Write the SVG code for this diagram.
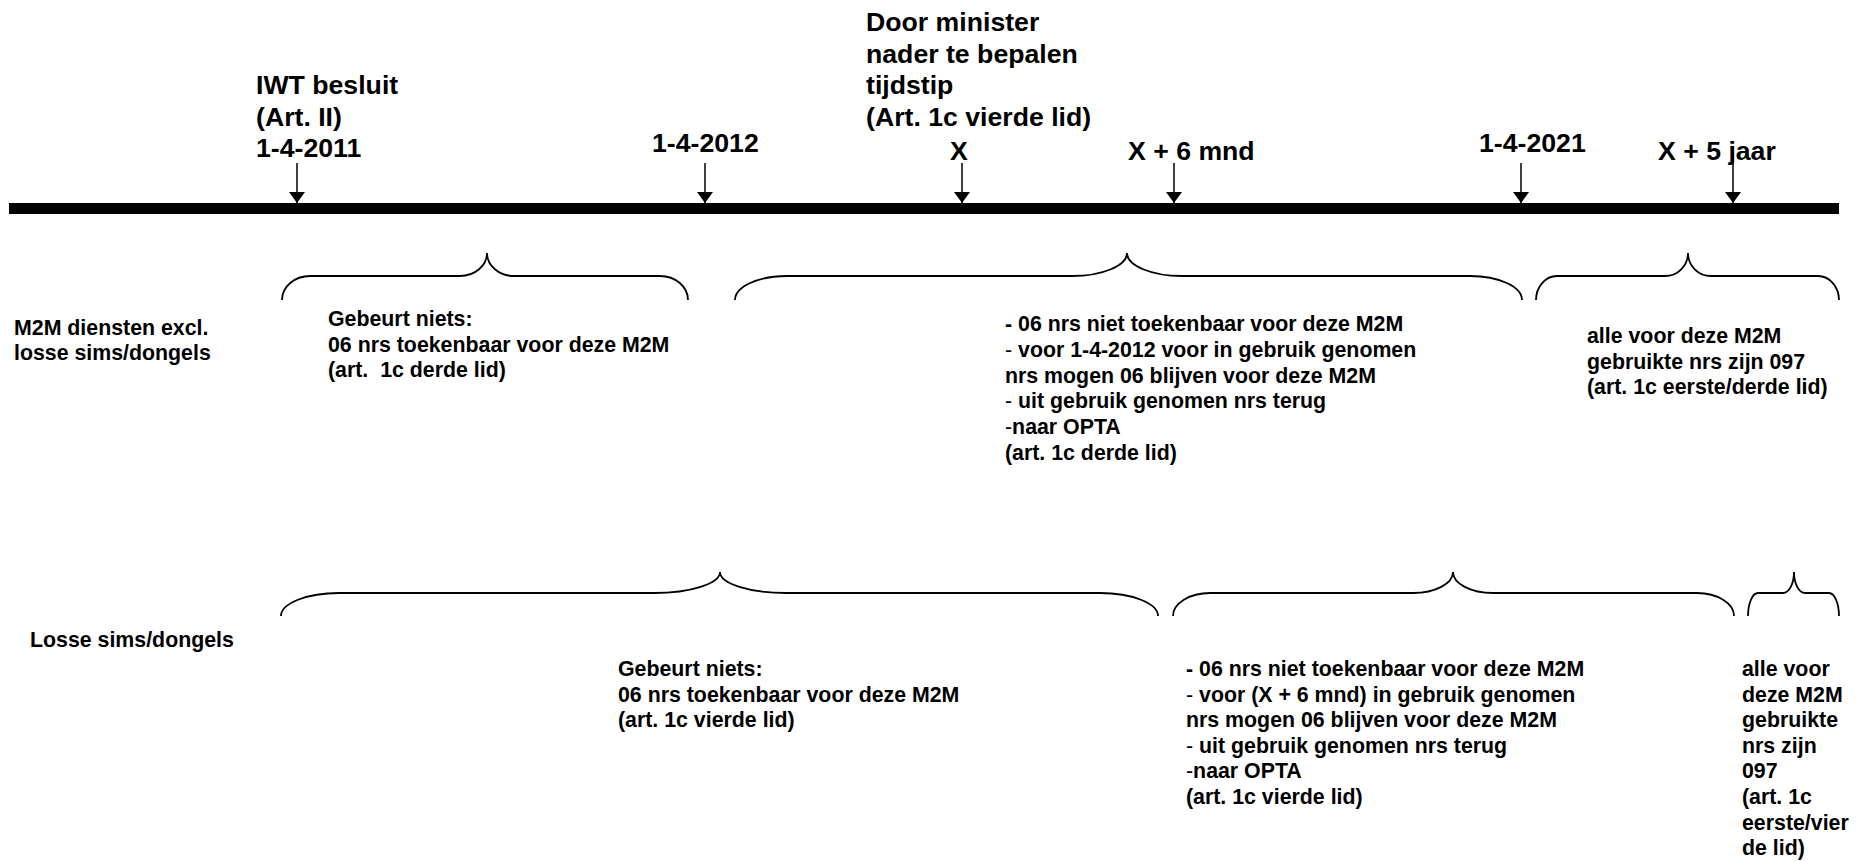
<svg xmlns="http://www.w3.org/2000/svg" width="1861" height="861" viewBox="0 0 1861 861">
<style>
.t{font-family:"Liberation Sans",Arial,Helvetica,sans-serif;font-weight:bold;fill:#000}
.big{font-size:26.67px}
.sm{font-size:21.33px}
.n{font-weight:normal}
.brace{fill:none;stroke:#000;stroke-width:1.8}
.arr{stroke:#000;stroke-width:1.5;fill:none}
</style>
<defs>
<marker id="ah" markerUnits="userSpaceOnUse" markerWidth="12" markerHeight="16" refX="11" refY="8" orient="auto">
<path d="M0,0 L11,8 L0,16 z" fill="#000"/>
</marker>
</defs>
<rect width="1861" height="861" fill="#fff"/>

<g id="timeline">
<rect x="9" y="203" width="1830" height="11" fill="#000"/>
</g>

<g id="ev-iwt">
<text class="t big"><tspan x="256" y="94">IWT besluit</tspan><tspan x="256" y="125.5">(Art. II)</tspan><tspan x="256" y="157">1-4-2011</tspan></text>
</g>
<g id="ev-2012">
<text class="t big" x="652" y="152">1-4-2012</text>
</g>
<g id="ev-x">
<text class="t big"><tspan x="866" y="31">Door minister</tspan><tspan x="866" y="62.5">nader te bepalen</tspan><tspan x="866" y="94">tijdstip</tspan><tspan x="866" y="125.5">(Art. 1c vierde lid)</tspan></text>
<text class="t big" x="950" y="160">X</text>
</g>
<g id="ev-x6">
<text class="t big" x="1128" y="160">X + 6 mnd</text>
</g>
<g id="ev-2021">
<text class="t big" x="1479" y="152">1-4-2021</text>
</g>
<g id="ev-x5">
<text class="t big" x="1658" y="160">X + 5 jaar</text>
</g>

<g id="connectors">
<line class="arr" x1="297" y1="163" x2="297" y2="203" marker-end="url(#ah)"/>
<line class="arr" x1="705" y1="163" x2="705" y2="203" marker-end="url(#ah)"/>
<line class="arr" x1="962" y1="163" x2="962" y2="203" marker-end="url(#ah)"/>
<line class="arr" x1="1174" y1="163" x2="1174" y2="203" marker-end="url(#ah)"/>
<line class="arr" x1="1521" y1="163" x2="1521" y2="203" marker-end="url(#ah)"/>
<line class="arr" x1="1733" y1="152" x2="1733" y2="203" marker-end="url(#ah)"/>
</g>

<g id="row1-label">
<text class="t sm"><tspan x="14" y="335">M2M diensten excl.</tspan><tspan x="14" y="360">losse sims/dongels</tspan></text>
</g>
<g id="row1-a">
<path class="brace" d="M282,300 C282,286.8 294.5,276 310,276 L460,276 C474.9,276 487,265.7 487,253 C487,265.7 499.1,276 514,276 L660,276 C675.5,276 688,286.8 688,300"/>
<text class="t sm" xml:space="preserve"><tspan x="328" y="326">Gebeurt niets:</tspan><tspan x="328" y="351.5">06 nrs toekenbaar voor deze M2M</tspan><tspan x="328" y="377">(art.  1c derde lid)</tspan></text>
</g>
<g id="row1-b">
<path class="brace" d="M735,300 C735,286.8 758.3,276 787,276 L1072,276 C1102.4,276 1127,265.7 1127,253 C1127,265.7 1151.6,276 1182,276 L1470,276 C1498.7,276 1522,286.8 1522,300"/>
<text class="t sm"><tspan x="1005" y="331">- 06 nrs niet toekenbaar voor deze M2M</tspan><tspan x="1005" y="356.8"><tspan class="n">-</tspan> voor 1-4-2012 voor in gebruik genomen</tspan><tspan x="1005" y="382.6">nrs mogen 06 blijven voor deze M2M</tspan><tspan x="1005" y="408.4"><tspan class="n">-</tspan> uit gebruik genomen nrs terug</tspan><tspan x="1005" y="434.2"><tspan class="n">-</tspan>naar OPTA</tspan><tspan x="1005" y="460">(art. 1c derde lid)</tspan></text>
</g>
<g id="row1-c">
<path class="brace" d="M1536,300 C1536,286.8 1545.4,276 1557,276 L1665,276 C1677.7,276 1688,265.7 1688,253 C1688,265.7 1698.3,276 1711,276 L1818,276 C1829.6,276 1839,286.8 1839,300"/>
<text class="t sm"><tspan x="1587" y="343">alle voor deze M2M</tspan><tspan x="1587" y="368.5">gebruikte nrs zijn 097</tspan><tspan x="1587" y="394">(art. 1c eerste/derde lid)</tspan></text>
</g>

<g id="row2-label">
<text class="t sm" x="30" y="647">Losse sims/dongels</text>
</g>
<g id="row2-d">
<path class="brace" d="M281,616 C281,603.3 307,593 339,593 L654,593 C690.4,593 720,583.6 720,572 C720,583.6 749.6,593 786,593 L1100,593 C1132,593 1158,603.3 1158,616"/>
<text class="t sm"><tspan x="618" y="676">Gebeurt niets:</tspan><tspan x="618" y="701.6">06 nrs toekenbaar voor deze M2M</tspan><tspan x="618" y="727.2">(art. 1c vierde lid)</tspan></text>
</g>
<g id="row2-e">
<path class="brace" d="M1173,616 C1173,603.3 1189.6,593 1210,593 L1413,593 C1435.1,593 1453,583.6 1453,572 C1453,583.6 1470.9,593 1493,593 L1697,593 C1717.4,593 1734,603.3 1734,616"/>
<text class="t sm"><tspan x="1186" y="676">- 06 nrs niet toekenbaar voor deze M2M</tspan><tspan x="1186" y="701.6"><tspan class="n">-</tspan> voor (X + 6 mnd) in gebruik genomen</tspan><tspan x="1186" y="727.2">nrs mogen 06 blijven voor deze M2M</tspan><tspan x="1186" y="752.8"><tspan class="n">-</tspan> uit gebruik genomen nrs terug</tspan><tspan x="1186" y="778.4"><tspan class="n">-</tspan>naar OPTA</tspan><tspan x="1186" y="804">(art. 1c vierde lid)</tspan></text>
</g>
<g id="row2-f">
<path class="brace" d="M1748,616 C1748,603.3 1752.5,593 1758,593 L1783,593 C1789.1,593 1794,583.6 1794,572 C1794,583.6 1798.9,593 1805,593 L1829,593 C1834.5,593 1839,603.3 1839,616"/>
<text class="t sm"><tspan x="1742" y="676">alle voor</tspan><tspan x="1742" y="701.6">deze M2M</tspan><tspan x="1742" y="727.2">gebruikte</tspan><tspan x="1742" y="752.8">nrs zijn</tspan><tspan x="1742" y="778.4">097</tspan><tspan x="1742" y="804">(art. 1c</tspan><tspan x="1742" y="829.6">eerste/vier</tspan><tspan x="1742" y="855.2">de lid)</tspan></text>
</g>
</svg>
